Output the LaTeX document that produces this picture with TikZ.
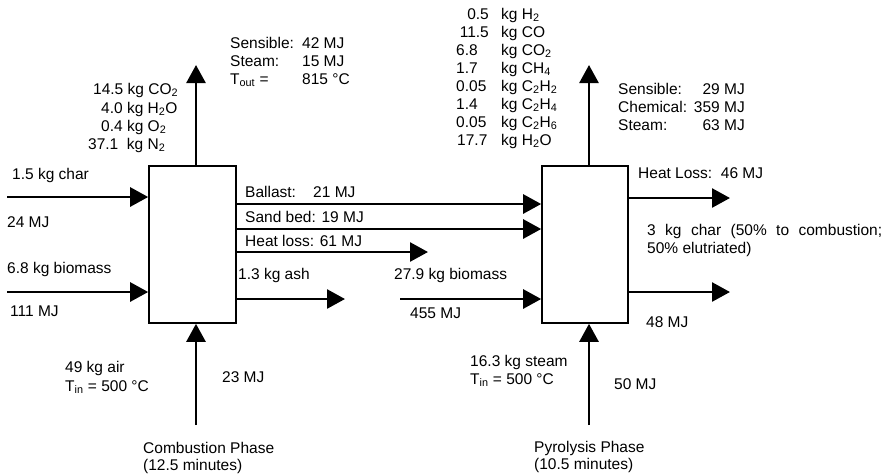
\documentclass[tikz,border=0pt]{standalone}
\usepackage{fontspec}
\setmainfont{Liberation Sans}
\usetikzlibrary{arrows.meta}
\newcommand{\sbs}[1]{\textsubscript{#1}}
\begin{document}
\begin{tikzpicture}[x=1pt,y=-1pt,
  box/.style={draw, line width=1.6pt, inner sep=0pt},
  flow/.style={line width=2.6pt, -{Triangle[length=18pt,width=19pt]}},
  lbl/.style={anchor=base west, inner sep=0pt, font=\fontsize{15.5}{18}\selectfont},
  lble/.style={anchor=base east, inner sep=0pt, font=\fontsize{15.5}{18}\selectfont}]
\useasboundingbox (0,0) rectangle (886,475);
% boxes
\node[box, minimum width=87pt, minimum height=157pt] (cb) at (192.5,244.5) {};
\node[box, minimum width=86pt, minimum height=157pt] (pb) at (585,244.5) {};
% coordinates
\coordinate (cbtop) at (196,65);
\coordinate (cbbot) at (196,425);
\coordinate (pbtop) at (589,65);
\coordinate (pbbot) at (589,425);
\coordinate (charin) at (7,197);
\coordinate (bioin) at (7,292);
\coordinate (bally) at (0,204);
\coordinate (sandy) at (0,229);
\coordinate (hlend) at (428,252);
\coordinate (ashend) at (345,299);
\coordinate (bio2) at (400,299);
\coordinate (phl) at (730,198);
\coordinate (pchar) at (730,292);
% arrows
\draw[flow] (cb.north -| cbtop) -- (cbtop);
\draw[flow] (cbbot) -- (cb.south -| cbbot);
\draw[flow] (pb.north -| pbtop) -- (pbtop);
\draw[flow] (pbbot) -- (pb.south -| pbbot);
\draw[flow] (charin) -- (charin -| cb.west);
\draw[flow] (bioin) -- (bioin -| cb.west);
\draw[flow] (cb.east |- bally) -- (pb.west |- bally);
\draw[flow] (cb.east |- sandy) -- (pb.west |- sandy);
\draw[flow] (cb.east |- hlend) -- (hlend);
\draw[flow] (cb.east |- ashend) -- (ashend);
\draw[flow] (bio2) -- (bio2 -| pb.west);
\draw[flow] (pb.east |- phl) -- (phl);
\draw[flow] (pb.east |- pchar) -- (pchar);
% combustion top labels
\node[lbl] (s1) at (230,48) {Sensible:};
\node[lbl] (s1v) at (302,48) {42 MJ};
\node[lbl] (s2) at (230,66) {Steam:};
\node[lbl] (s2v) at (302,66) {15 MJ};
\node[lbl] (s3) at (230,84) {T\sbs{out} =};
\node[lbl] (s3v) at (302,84) {815 °C};
\node[lbl] (g1) at (93,94) {14.5 kg CO\sbs{2}};
\node[lbl] (g2) at (101,113) {4.0 kg H\sbs{2}O};
\node[lbl] (g3) at (101,131) {0.4 kg O\sbs{2}};
\node[lbl] (g4) at (88,149) {37.1\ \ kg N\sbs{2}};
% left inputs
\node[lbl] (c1) at (12,179) {1.5 kg char};
\node[lbl] (c2) at (7,227) {24 MJ};
\node[lbl] (b1) at (7,273) {6.8 kg biomass};
\node[lbl] (b2) at (10,316) {111 MJ};
% middle
\node[lbl] (m1) at (245,197) {Ballast:\ \ \ \ 21 MJ};
\node[lbl] (m2) at (245,222) {Sand bed: 19 MJ};
\node[lbl] (m3) at (245,246) {Heat loss: 61 MJ};
\node[lbl] (m4) at (238,279) {1.3 kg ash};
\node[lbl] (m5) at (394,279) {27.9 kg biomass};
\node[lbl] (m6) at (410,318) {455 MJ};
% bottom left
\node[lbl] (a1) at (65,372) {49 kg air};
\node[lbl] (a2) at (65,391) {T\sbs{in} = 500 °C};
\node[lbl] (a3) at (222,382) {23 MJ};
\node[lbl] (cp1) at (143,453) {Combustion Phase};
\node[lbl] (cp2) at (143,470) {(12.5 minutes)};
% pyrolysis top gases
\node[lble] (n1) at (489,19) {0.5};
\node[lble] (n2) at (489,37) {11.5};
\node[lbl] (n3) at (456,55) {6.8};
\node[lbl] (n4) at (456,73) {1.7};
\node[lbl] (n5) at (456,91) {0.05};
\node[lbl] (n6) at (456,109) {1.4};
\node[lbl] (n7) at (456,127) {0.05};
\node[lbl] (n8) at (457,145) {17.7};
\node[lbl] (k1) at (501,19) {kg H\sbs{2}};
\node[lbl] (k2) at (501,37) {kg CO};
\node[lbl] (k3) at (501,55) {kg CO\sbs{2}};
\node[lbl] (k4) at (501,73) {kg CH\sbs{4}};
\node[lbl] (k5) at (501,91) {kg C\sbs{2}H\sbs{2}};
\node[lbl] (k6) at (501,109) {kg C\sbs{2}H\sbs{4}};
\node[lbl] (k7) at (501,127) {kg C\sbs{2}H\sbs{6}};
\node[lbl] (k8) at (501,145) {kg H\sbs{2}O};
% pyrolysis right labels
\node[lbl] (r1) at (618,94) {Sensible:};
\node[lble] (r1v) at (745,94) {29 MJ};
\node[lbl] (r2) at (618,112) {Chemical:};
\node[lble] (r2v) at (745,112) {359 MJ};
\node[lbl] (r3) at (618,130) {Steam:};
\node[lble] (r3v) at (745,130) {63 MJ};
\node[lbl] (h1) at (638,178) {Heat Loss:\ \ 46 MJ};
\node[lbl] (ch1) at (647,235) {\makebox[235pt][s]{3 kg char (50\% to combustion;}};
\node[lbl] (ch2) at (647,253) {50\% elutriated)};
\node[lbl] (ch3) at (646,327) {48 MJ};
% bottom right
\node[lbl] (st1) at (470,366) {16.3 kg steam};
\node[lbl] (st2) at (470,384) {T\sbs{in} = 500 °C};
\node[lbl] (st3) at (614,389) {50 MJ};
\node[lbl] (pp1) at (534,452) {Pyrolysis Phase};
\node[lbl] (pp2) at (534,469) {(10.5 minutes)};
\end{tikzpicture}
\end{document}
